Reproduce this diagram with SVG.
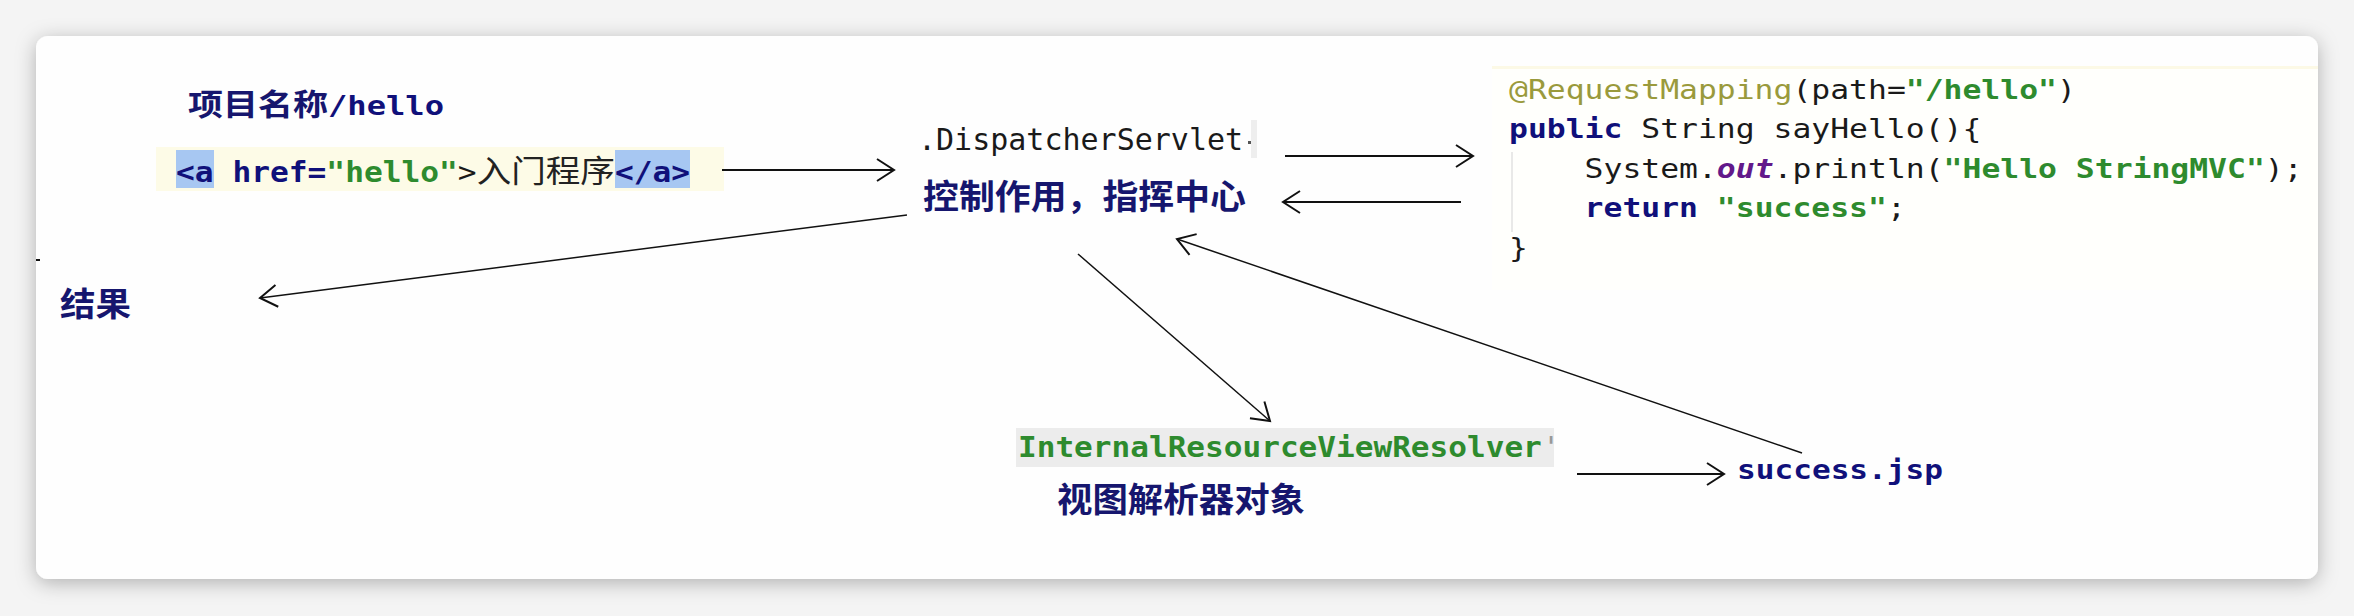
<svg xmlns="http://www.w3.org/2000/svg" width="2354" height="616" viewBox="0 0 2354 616">
<defs>
<filter id="shadow" x="-5%" y="-20%" width="110%" height="140%"><feDropShadow dx="0" dy="4" stdDeviation="10" flood-color="#000" flood-opacity="0.28"/></filter>
<marker id="arrow" markerUnits="userSpaceOnUse" viewBox="-20 -14 24 28" markerWidth="24" markerHeight="28" refX="0" refY="0" orient="auto"><path d="M-17,-11 L0,0 L-17,11" fill="none" stroke="#111" stroke-width="2"/></marker>
</defs>
<style>
.cjk{font-family:"Noto Sans CJK SC",sans-serif;font-weight:700;fill:#16166e}
.mono{font-family:"DejaVu Sans Mono",monospace}
.b{font-weight:700}
.navy{fill:#10107a}
.green{fill:#2e8b2e}
.olive{fill:#9a9a3c}
.purple{fill:#62198a;font-style:italic;font-weight:700}
.plain{fill:#1a1a1a}
.conn{fill:none;stroke:#111;stroke-width:2;marker-end:url(#arrow)}
.thin{stroke-width:1.5}
</style>
<rect x="0" y="0" width="2354" height="616" fill="#f4f4f4"/>
<rect x="36" y="36" width="2282" height="543" rx="12" fill="#fefefe" filter="url(#shadow)"/>
<line x1="36" y1="260" x2="40" y2="260" stroke="#111" stroke-width="2"/>

<g id="project-url">
<text class="cjk" x="188" y="115" font-size="30" textLength="140" lengthAdjust="spacingAndGlyphs">项目名称</text>
<text class="mono b navy" x="328" y="115" font-size="27" textLength="116" lengthAdjust="spacingAndGlyphs">/hello</text>
</g>

<g id="link">
<rect x="156" y="147" width="568" height="44" fill="#fdfbe7"/>
<rect x="176" y="150" width="38" height="38" fill="#a7c7f2"/>
<rect x="615" y="150" width="75" height="38" fill="#a7c7f2"/>
<text class="mono" font-size="28" transform="translate(176,182) scale(1.115,1)" xml:space="preserve"><tspan class="b navy">&lt;a</tspan><tspan> </tspan><tspan class="b navy">href=</tspan><tspan class="b green">"hello"</tspan><tspan class="plain">&gt;</tspan><tspan font-family="Noto Sans CJK SC, sans-serif" font-size="31" fill="#222">入门程序</tspan><tspan class="b navy">&lt;/a&gt;</tspan></text>
</g>

<g id="dispatcher">
<text class="mono plain" x="918" y="150" font-size="30">.DispatcherServlet</text>
<rect x="1251" y="120" width="6" height="38" fill="#eeeeee"/>
<rect x="1248" y="141" width="3" height="3" fill="#555"/>
<text class="cjk" x="923" y="209" font-size="34" textLength="323" lengthAdjust="spacingAndGlyphs">控制作用，指挥中心</text>
</g>

<g id="controller-code">
<rect x="1492" y="66" width="826" height="224" fill="#fffffc"/>
<rect x="1492" y="66" width="826" height="3" fill="#fcf9e6"/>
<line x1="1512" y1="152" x2="1512" y2="232" stroke="#e2e2e2" stroke-width="1.5"/>
<text class="mono plain" font-size="27" transform="translate(1509,99) scale(1.163,1)" xml:space="preserve"><tspan class="olive">@RequestMapping</tspan><tspan>(path=</tspan><tspan class="b green">"/hello"</tspan><tspan>)</tspan></text>
<text class="mono plain" font-size="27" transform="translate(1509,138) scale(1.163,1)" xml:space="preserve"><tspan class="b navy">public</tspan><tspan> String sayHello(){</tspan></text>
<text class="mono plain" font-size="27" transform="translate(1584.6,178) scale(1.163,1)" xml:space="preserve"><tspan>System.</tspan><tspan class="purple">out</tspan><tspan>.println(</tspan><tspan class="b green">"Hello StringMVC"</tspan><tspan>);</tspan></text>
<text class="mono plain" font-size="27" transform="translate(1584.6,217) scale(1.163,1)" xml:space="preserve"><tspan class="b navy">return</tspan><tspan> </tspan><tspan class="b green">"success"</tspan><tspan>;</tspan></text>
<text class="mono plain" font-size="27" transform="translate(1509,257) scale(1.163,1)">}</text>
</g>

<g id="result">
<text class="cjk" x="60" y="316" font-size="33" textLength="71" lengthAdjust="spacingAndGlyphs">结果</text>
</g>

<g id="view-resolver">
<rect x="1016" y="428" width="538" height="39" fill="#ececec"/>
<text class="mono b green" font-size="29" transform="translate(1018,457) scale(1.072,1)" xml:space="preserve">InternalResourceViewResolver<tspan fill="#999" font-weight="400">'</tspan></text>
<text class="cjk" x="1057" y="512" font-size="34" textLength="248" lengthAdjust="spacingAndGlyphs">视图解析器对象</text>
</g>

<g id="success-jsp">
<text class="mono b navy" x="1737" y="479" font-size="26" textLength="206" lengthAdjust="spacingAndGlyphs">success.jsp</text>
</g>

<g id="connectors">
<line class="conn" x1="722" y1="170" x2="894" y2="170"/>
<line class="conn" x1="1285" y1="156" x2="1473" y2="156"/>
<line class="conn" x1="1461" y1="202" x2="1283" y2="202"/>
<line class="conn thin" x1="907" y1="215" x2="260" y2="298"/>
<line class="conn thin" x1="1078" y1="254" x2="1270" y2="421"/>
<line class="conn thin" x1="1802" y1="453" x2="1177" y2="239"/>
<line class="conn" x1="1577" y1="474" x2="1724" y2="474"/>
</g>
</svg>
